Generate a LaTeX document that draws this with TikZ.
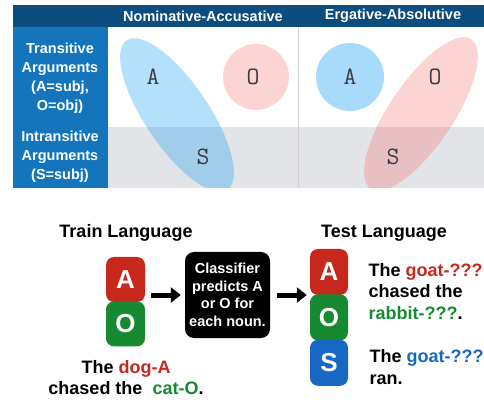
\documentclass[tikz,border=0pt]{standalone}
\usepackage{fontspec}
\setmainfont{Liberation Sans}
\usetikzlibrary{arrows.meta,positioning,calc}
\definecolor{hdrblue}{RGB}{12,76,126}
\definecolor{colblue}{RGB}{20,117,188}
\definecolor{rowgray}{RGB}{227,228,232}
\definecolor{ellblue}{RGB}{20,160,240}
\definecolor{ellred}{RGB}{245,112,112}
\definecolor{circblue}{RGB}{168,218,251}
\definecolor{circred}{RGB}{252,212,212}
\definecolor{boxred}{RGB}{198,40,29}
\definecolor{boxgreen}{RGB}{23,138,49}
\definecolor{boxblue}{RGB}{22,104,196}
\definecolor{lettergray}{RGB}{55,58,66}

\begin{document}
\begin{tikzpicture}[
    x=1pt, y=1pt,
    hdr/.style={font=\fontsize{14.5}{17.5}\selectfont\bfseries, text=white},
    rowlbl/.style={font=\fontsize{14.5}{19}\selectfont\bfseries, text=white, align=center},
    letter/.style={font=\ttfamily\fontsize{25}{25}\selectfont, text=lettergray},
    role/.style={rectangle, rounded corners=8pt, fill=#1,
                 minimum width=39pt, minimum height=45pt, inner sep=0pt,
                 text=white, font=\fontsize{26}{26}\selectfont\bfseries},
    langtitle/.style={font=\fontsize{18}{21.5}\selectfont\bfseries},
    sent/.style={font=\fontsize{18}{21.5}\selectfont\bfseries, align=left},
    bigarrow/.style={-{Triangle[length=10pt,width=15pt]}, line width=5pt}
]
\useasboundingbox (0,0) rectangle (484,399);

% Table
\fill[hdrblue] (13,372) rectangle (484,394);
\fill[colblue] (13,211) rectangle (108,372);
\fill[rowgray] (108,211) rectangle (484,272);
\draw[black!18, line width=0.6pt] (298,211) -- (298,372);

\node[hdr] (nomhead) at (203,383) {Nominative-Accusative};
\node[hdr] (erghead) at (393,383) {Ergative-Absolutive};
\node[rowlbl] (translbl) at (60,321) {Transitive\\Arguments\\(A=subj,\\O=obj)};
\node[rowlbl] (intrlbl) at (60,242) {Intransitive\\Arguments\\(S=subj)};

% Groupings
\begin{scope}
  \clip (108,211) rectangle (484,372);
  \fill[circred] (256,322) circle (33);
  \fill[circblue] (350,322) circle (34);
  \fill[ellblue, fill opacity=0.32, rotate around={-56:(177,284)}]
      (177,284) ellipse (90 and 32);
  \fill[ellred, fill opacity=0.3, rotate around={56:(421,285)}]
      (421,285) ellipse (90 and 32);
\end{scope}

\node[letter] (nomA) at (153,322) {A};
\node[letter] (nomO) at (253,322) {O};
\node[letter] (nomS) at (203,242) {S};
\node[letter] (ergA) at (350,322) {A};
\node[letter] (ergO) at (435,322) {O};
\node[letter] (ergS) at (393,242) {S};

% Train
\node[langtitle] (trainlbl) at (126,166) {Train Language};
\node[role=boxred] (trainA) at (125.5,119.5) {A};
\node[role=boxgreen, below=-1pt of trainA] (trainO) {O};
\node[font=\fontsize{18}{21.5}\selectfont\bfseries, align=center] (trainsent) at (126,21.5)
    {The \textcolor{boxred}{dog-A}\\chased the\ \ \textcolor{boxgreen}{cat-O}.};

% Classifier
\node[rectangle, rounded corners=9pt, fill=black, text=white,
      minimum width=85pt, minimum height=86pt, align=center,
      font=\fontsize{14.5}{17.5}\selectfont\bfseries] (clf) at (227.5,104)
    {Classifier\\predicts A\\or O for\\each noun.};

% Test
\node[langtitle] (testlbl) at (384,166) {Test Language};
\node[role=boxred, minimum width=38pt, minimum height=46pt] (testA) at (329,127) {A};
\node[role=boxgreen, minimum width=38pt, minimum height=46pt, below=-1pt of testA] (testO) {O};
\node[role=boxblue, minimum width=38pt, minimum height=46pt, below=-1pt of testO] (testS) {S};
\node[sent, anchor=west] (testsentA) at (365,107.5)
    {The \textcolor{boxred}{goat-???}\\chased the\\\textcolor{boxgreen}{rabbit-???}.};
\node[sent, anchor=west] (testsentS) at (366,32)
    {The \textcolor{boxblue}{goat-???}\\ran.};

% Arrows
\draw[bigarrow, shorten <=6pt, shorten >=4pt] (clf.west -| trainA.east) -- (clf.west);
\draw[bigarrow, shorten <=7pt, shorten >=3pt] (clf.east) -- (clf.east -| testA.west);
\end{tikzpicture}
\end{document}
